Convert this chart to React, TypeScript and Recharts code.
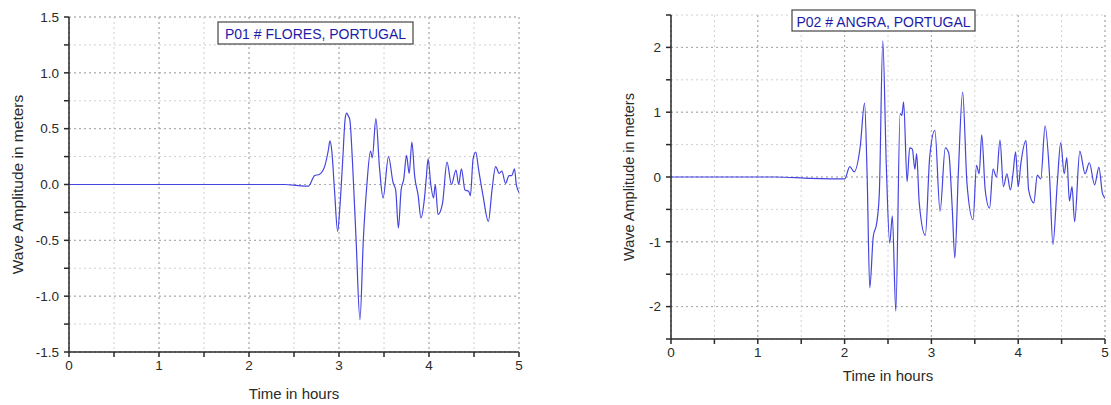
import { LineChart, Line, XAxis, YAxis, CartesianGrid } from 'recharts'

// P01 Flores: time (hours) and wave amplitude (m)
const floresTime = [
  0, 2.0, 2.4, 2.55, 2.66, 2.73, 2.78, 2.84, 2.88, 2.9, 2.92, 2.95, 2.985, 3.01, 3.04, 3.07, 3.085, 3.1,
  3.12, 3.15, 3.19, 3.233, 3.27, 3.31, 3.35, 3.37, 3.41, 3.45, 3.49, 3.55, 3.6, 3.63, 3.66, 3.69, 3.72,
  3.75, 3.78, 3.81, 3.84, 3.88, 3.91, 3.95, 3.97, 3.99, 4.02, 4.05, 4.07, 4.1, 4.15, 4.2, 4.25, 4.3, 4.33,
  4.36, 4.4, 4.44, 4.46, 4.49, 4.52, 4.55, 4.6, 4.66, 4.7, 4.74, 4.78, 4.81, 4.85, 4.89, 4.92, 4.95, 4.97, 5.0,
]
const floresAmp = [
  0, 0, 0, -0.01, -0.015, 0.08, 0.09, 0.16, 0.3, 0.39, 0.3, -0.05, -0.42, -0.2, 0.2, 0.6, 0.64, 0.62,
  0.58, 0.2, -0.5, -1.21, -0.5, 0.0, 0.3, 0.24, 0.59, 0.15, -0.12, 0.25, 0.02, -0.05, -0.39, -0.05, 0.05,
  0.26, 0.1, 0.38, 0.08, -0.1, -0.3, -0.12, 0.06, 0.23, 0.0, -0.12, 0.0, -0.27, -0.17, 0.2, 0.0, 0.13, 0.0,
  0.14, -0.05, -0.06, -0.1, 0.23, 0.29, 0.14, -0.1, -0.33, -0.05, 0.16, 0.1, 0.12, 0.01, 0.08, 0.08, 0.14, 0.0, -0.07,
]

// P02 Angra
const angraTime = [
  0, 1.2, 1.6, 2.0, 2.06, 2.11, 2.18, 2.23, 2.26, 2.29, 2.33, 2.37, 2.4, 2.44, 2.48, 2.52, 2.55, 2.59,
  2.64, 2.66, 2.68, 2.72, 2.75, 2.78, 2.81, 2.83, 2.86, 2.93, 2.98, 3.04, 3.1, 3.16, 3.2, 3.24, 3.27,
  3.31, 3.36, 3.41, 3.48, 3.52, 3.55, 3.58, 3.62, 3.67, 3.71, 3.75, 3.79, 3.83, 3.87, 3.91, 3.94, 3.97,
  4.0, 4.03, 4.09, 4.12, 4.18, 4.22, 4.26, 4.31, 4.36, 4.4, 4.45, 4.49, 4.53, 4.56, 4.59, 4.62, 4.65,
  4.71, 4.77, 4.82, 4.88, 4.93, 4.97, 5.0,
]
const angraAmp = [
  0, 0, -0.02, -0.03, 0.16, 0.08, 0.47, 1.14, 0.0, -1.71, -0.92, -0.71, -0.25, 2.1, 0.2, -1.02, -0.6, -2.07,
  0.98, 0.95, 1.16, -0.07, 0.45, 0.43, 0.12, 0.36, -0.4, -0.9, 0.3, 0.72, -0.53, 0.45, 0.37, -0.48, -1.25,
  0.05, 1.31, -0.1, -0.66, 0.18, 0.05, 0.65, -0.2, -0.48, 0.12, 0.0, 0.57, -0.15, 0.05, -0.2, 0.05, 0.39,
  -0.15, 0.2, 0.56, -0.2, -0.4, 0.03, -0.03, 0.79, 0.05, -1.04, -0.1, 0.53, 0.05, 0.3, -0.37, -0.15, -0.69,
  0.4, 0.05, 0.22, -0.12, 0.15, -0.25, -0.33,
]

const timeTicks = [0, 0.5, 1, 1.5, 2, 2.5, 3, 3.5, 4, 4.5, 5]
const timeMajor = [0, 1, 2, 3, 4, 5]
const floresTicks = [-1.5, -1.25, -1, -0.75, -0.5, -0.25, 0, 0.25, 0.5, 0.75, 1, 1.25, 1.5]
const floresMajor = [-1.5, -1, -0.5, 0, 0.5, 1, 1.5]
const angraTicks = [-2.5, -2, -1.5, -1, -0.5, 0, 0.5, 1, 1.5, 2, 2.5]
const angraMajor = [-2, -1, 0, 1, 2]

const FONT = '"Liberation Sans", Arial, sans-serif'
const AXIS = '#2a2a2a'

interface PanelProps {
  title: string
  time: number[]
  amp: number[]
  yTicks: number[]
  yMajor: number[]
  yDomain: [number, number]
  yFormat: (v: number) => string
  left: number
  width: number
  margin: { top: number; right: number; left: number; bottom: number }
  yAxisWidth: number
  xAxisHeight: number
  yTitleX: number
  yTitleSize: number
  xTitleY: number
  titleBox: { left: number; top: number; width: number; height: number }
}

function Panel(p: PanelProps) {
  const data = p.time.map((t, i) => ({ t, v: p.amp[i] }))
  const plotTop = p.margin.top
  const plotBottom = 405 - p.margin.bottom - p.xAxisHeight
  const plotLeft = p.margin.left + p.yAxisWidth
  const plotRight = p.width - p.margin.right
  const midY = (plotTop + plotBottom) / 2
  return (
    <div style={{ position: 'absolute', left: p.left, top: 0, width: p.width, height: 405 }}>
      <LineChart width={p.width} height={405} data={data} margin={p.margin}>
        <CartesianGrid
          stroke="#d0d0d0"
          strokeDasharray="2 3"
          horizontalValues={p.yTicks}
          verticalValues={timeTicks}
        />
        <CartesianGrid
          stroke="#a8a8a8"
          strokeDasharray="2 3"
          horizontalValues={p.yMajor}
          verticalValues={timeMajor}
        />
        <XAxis
          dataKey="t"
          type="number"
          domain={[0, 5]}
          ticks={timeTicks}
          interval={0}
          tickFormatter={(v: number) => (Number.isInteger(v) ? String(v) : '')}
          height={p.xAxisHeight}
          tickSize={5}
          tickMargin={3}
          stroke={AXIS}
          strokeWidth={1.5}
          tick={{ fill: '#2a2a2a', fontSize: 13.5, fontFamily: FONT }}
          allowDataOverflow
        />
        <YAxis
          type="number"
          domain={p.yDomain}
          ticks={p.yTicks}
          interval={0}
          tickFormatter={p.yFormat}
          width={p.yAxisWidth}
          tickSize={5}
          tickMargin={5}
          stroke={AXIS}
          strokeWidth={1.5}
          tick={{ fill: '#2a2a2a', fontSize: 13.5, fontFamily: FONT }}
          allowDataOverflow
        />
        <Line
          type="monotone"
          dataKey="v"
          stroke="#4444e0"
          strokeWidth={1.2}
          dot={false}
          isAnimationActive={false}
        />
      </LineChart>
      <svg
        width={p.width}
        height={405}
        style={{ position: 'absolute', left: 0, top: 0, pointerEvents: 'none' }}
      >
        <text
          x={p.yTitleX}
          y={midY}
          transform={`rotate(-90 ${p.yTitleX} ${midY})`}
          textAnchor="middle"
          dominantBaseline="central"
          fontFamily={FONT}
          fontSize={p.yTitleSize}
          fill="#2a2a2a"
        >
          Wave Amplitude in meters
        </text>
        <text
          x={(plotLeft + plotRight) / 2}
          y={p.xTitleY}
          textAnchor="middle"
          dominantBaseline="central"
          fontFamily={FONT}
          fontSize={15}
          fill="#2a2a2a"
        >
          Time in hours
        </text>
        <rect
          x={p.titleBox.left}
          y={p.titleBox.top}
          width={p.titleBox.width}
          height={p.titleBox.height}
          fill="#fff"
          stroke="#444"
          strokeWidth={1.2}
        />
        <text
          x={p.titleBox.left + p.titleBox.width / 2}
          y={p.titleBox.top + p.titleBox.height / 2 + 1}
          textAnchor="middle"
          dominantBaseline="central"
          fontFamily={FONT}
          fontSize={14}
          fill="#1c1ca8"
        >
          {p.title}
        </text>
      </svg>
    </div>
  )
}

export default function App() {
  return (
    <div style={{ position: 'absolute', left: 0, top: 0, width: 1111, height: 405, background: '#fff' }}>
      <Panel
        title="P01 # FLORES, PORTUGAL"
        time={floresTime}
        amp={floresAmp}
        yTicks={floresTicks}
        yMajor={floresMajor}
        yDomain={[-1.5, 1.5]}
        yFormat={(v: number) => (Math.abs(v * 2 - Math.round(v * 2)) < 1e-6 ? v.toFixed(1) : '')}
        left={0}
        width={560}
        margin={{ top: 17, right: 41, left: 0, bottom: 0 }}
        yAxisWidth={69}
        xAxisHeight={53}
        yTitleX={17}
        yTitleSize={15.5}
        xTitleY={393}
        titleBox={{ left: 218, top: 22, width: 195, height: 22 }}
      />
      <Panel
        title="P02 # ANGRA, PORTUGAL"
        time={angraTime}
        amp={angraAmp}
        yTicks={angraTicks}
        yMajor={angraMajor}
        yDomain={[-2.5, 2.5]}
        yFormat={(v: number) => (Number.isInteger(v) ? String(v) : '')}
        left={560}
        width={551}
        margin={{ top: 15, right: 6, left: 0, bottom: 0 }}
        yAxisWidth={111}
        xAxisHeight={66}
        yTitleX={69}
        yTitleSize={14.5}
        xTitleY={375}
        titleBox={{ left: 232, top: 10, width: 183, height: 21 }}
      />
    </div>
  )
}
